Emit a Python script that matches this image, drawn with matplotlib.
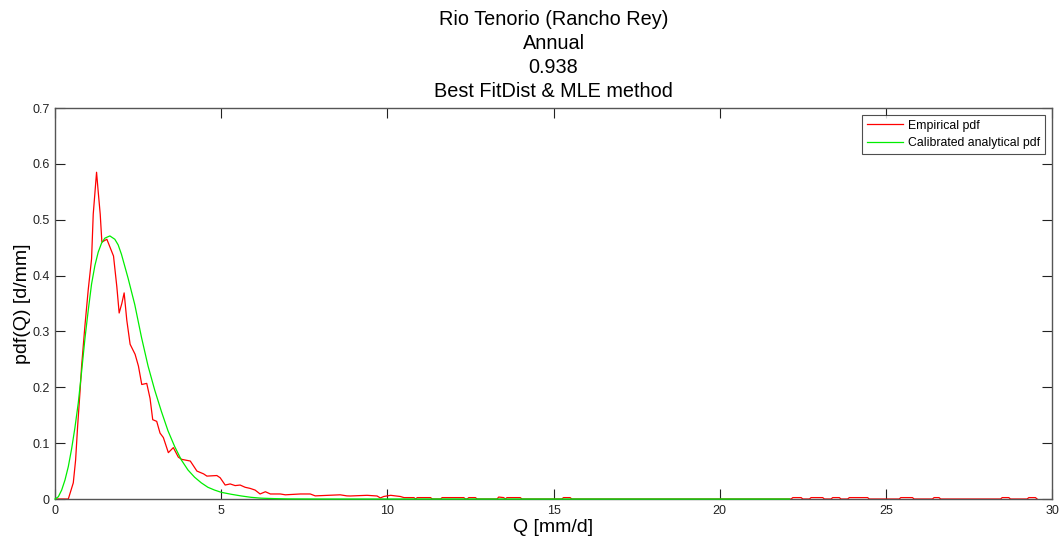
import matplotlib
matplotlib.use("Agg")
import matplotlib.pyplot as plt

# --- data ------------------------------------------------------------------
TITLE_LINES = ["Rio Tenorio (Rancho Rey)", "Annual", "0.938", "Best FitDist & MLE method"]

# empirical pdf (red)
Q_EMP = [0.00, 0.40, 0.55, 0.62, 0.68, 0.75, 0.80, 0.90, 1.00, 1.10, 1.15, 1.25,
         1.30, 1.36, 1.41, 1.56, 1.66, 1.76, 1.86, 1.93, 2.01, 2.08, 2.16, 2.26,
         2.41, 2.51, 2.61, 2.76, 2.86, 2.94, 3.06, 3.16, 3.26, 3.41, 3.56, 3.71,
         3.81, 4.07, 4.27, 4.47, 4.57, 4.87, 4.97, 5.12, 5.27, 5.42, 5.57, 5.72,
         5.87, 6.02, 6.17, 6.33, 6.48, 6.78, 6.93, 7.38, 7.68, 7.83, 8.58, 8.78,
         8.88, 9.39, 9.69, 9.79, 9.89, 10.10, 10.39, 10.50,
         10.80, 10.85, 10.90, 11.30, 11.35, 11.60, 11.65, 12.30, 12.35, 12.40,
         12.45, 12.65, 12.70, 13.30, 13.35, 13.50, 13.55, 13.60, 13.80, 14.00,
         14.05, 15.25, 15.30, 15.50, 15.55, 22.15, 22.20, 22.45, 22.50, 22.70,
         22.75, 23.10, 23.15, 23.35, 23.40, 23.60, 23.65, 23.85, 23.90, 24.45,
         24.50, 25.40, 25.45, 25.80, 25.85, 26.40, 26.45, 26.60, 26.65, 28.45,
         28.50, 28.70, 28.75, 29.25, 29.30, 29.50, 29.55]
PDF_EMP = [0.000, 0.000, 0.029, 0.070, 0.130, 0.190, 0.238, 0.310, 0.375, 0.430, 0.510, 0.585,
           0.550, 0.510, 0.460, 0.465, 0.450, 0.435, 0.380, 0.333, 0.350, 0.369, 0.320, 0.277,
           0.259, 0.238, 0.205, 0.207, 0.180, 0.142, 0.139, 0.118, 0.110, 0.083, 0.092, 0.075,
           0.071, 0.068, 0.050, 0.045, 0.041, 0.042, 0.038, 0.025, 0.027, 0.024, 0.025, 0.021,
           0.019, 0.016, 0.009, 0.013, 0.009, 0.009, 0.0075, 0.009, 0.009, 0.0056, 0.0075, 0.0056,
           0.0054, 0.0066, 0.0054, 0.0019, 0.0045, 0.0066, 0.0045, 0.0025,
           0.0025, 0.000, 0.0025, 0.0025, 0.000, 0.000, 0.0025, 0.0025, 0.000, 0.000,
           0.0025, 0.0025, 0.000, 0.000, 0.0035, 0.0025, 0.000, 0.0025, 0.0025, 0.0025,
           0.000, 0.000, 0.0025, 0.0025, 0.000, 0.000, 0.0025, 0.0025, 0.000, 0.000,
           0.0025, 0.0025, 0.000, 0.000, 0.0025, 0.0025, 0.000, 0.000, 0.0025, 0.0025,
           0.000, 0.000, 0.0025, 0.0025, 0.000, 0.000, 0.0025, 0.0025, 0.000, 0.000,
           0.0025, 0.0025, 0.000, 0.000, 0.0025, 0.0025, 0.000]

# calibrated analytical pdf (green)
Q_FIT = [0.00, 0.10, 0.20, 0.30, 0.40, 0.50, 0.60, 0.70, 0.80, 0.90, 1.00, 1.10,
         1.20, 1.30, 1.40, 1.50, 1.65, 1.80, 1.90, 2.00, 2.20, 2.40, 2.60, 2.80,
         3.00, 3.20, 3.40, 3.60, 3.80, 4.00, 4.20, 4.40, 4.60, 4.80, 5.00, 5.30,
         5.60, 5.90, 6.20, 6.60, 7.00, 8.00, 22.10]
PDF_FIT = [0.000, 0.004, 0.016, 0.034, 0.058, 0.090, 0.128, 0.172, 0.228, 0.287, 0.338, 0.385,
           0.418, 0.442, 0.458, 0.467, 0.471, 0.465, 0.455, 0.438, 0.395, 0.348, 0.290, 0.238,
           0.195, 0.157, 0.122, 0.094, 0.070, 0.052, 0.039, 0.029, 0.021, 0.016, 0.012, 0.0085,
           0.0055, 0.003, 0.0015, 0.0007, 0.0002, 0.000, 0.000]

X_TICKS = [0, 5, 10, 15, 20, 25, 30]
Y_TICKS = [0, 0.1, 0.2, 0.3, 0.4, 0.5, 0.6, 0.7]

plt.rcParams["font.family"] = ["Liberation Sans", "DejaVu Sans"]

fig = plt.figure(figsize=(10.6, 5.45), dpi=100, facecolor="white")
ax = fig.add_axes([0.0519, 0.0844, 0.9406, 0.7174])

# red sits under the frame (its zero stretches vanish into the axis line),
# green stays on top of the frame along y = 0 as in the reference
ax.plot(Q_EMP, PDF_EMP, color="#ff0000", lw=0.9, label="Empirical pdf", zorder=2)
ax.plot(Q_FIT, PDF_FIT, color="#00ee00", lw=0.9, label="Calibrated analytical pdf",
        clip_on=False, zorder=3)

ax.set_xlim(0, 30)
ax.set_ylim(0, 0.7)
ax.set_xticks(X_TICKS)
ax.set_yticks(Y_TICKS)
ax.set_xticklabels([str(t) for t in X_TICKS])
ax.set_yticklabels(["0" if t == 0 else f"{t:.1f}" for t in Y_TICKS])
ax.tick_params(direction="in", length=7, width=0.8, labelsize=9, colors="#222222",
               top=True, right=True, pad=4)
for s in ax.spines.values():
    s.set_color("#555555")
    s.set_linewidth(1.0)
    s.set_zorder(2.5)

ax.set_xlabel("Q [mm/d]", fontsize=14, labelpad=2)
ax.set_ylabel("pdf(Q) [d/mm]", fontsize=14, labelpad=1)
ax.set_title("\n".join(TITLE_LINES), fontsize=14.3, linespacing=1.33, pad=8)

leg = ax.legend(loc="upper right", fontsize=8.8, frameon=True, fancybox=False,
                handlelength=3.0, borderaxespad=0.55, borderpad=0.4, labelspacing=0.45,
                handletextpad=0.4)
leg.get_frame().set_edgecolor("#222222")
leg.get_frame().set_linewidth(0.8)
leg.set_zorder(5)

fig.savefig("out.png", dpi=100, facecolor="white")
